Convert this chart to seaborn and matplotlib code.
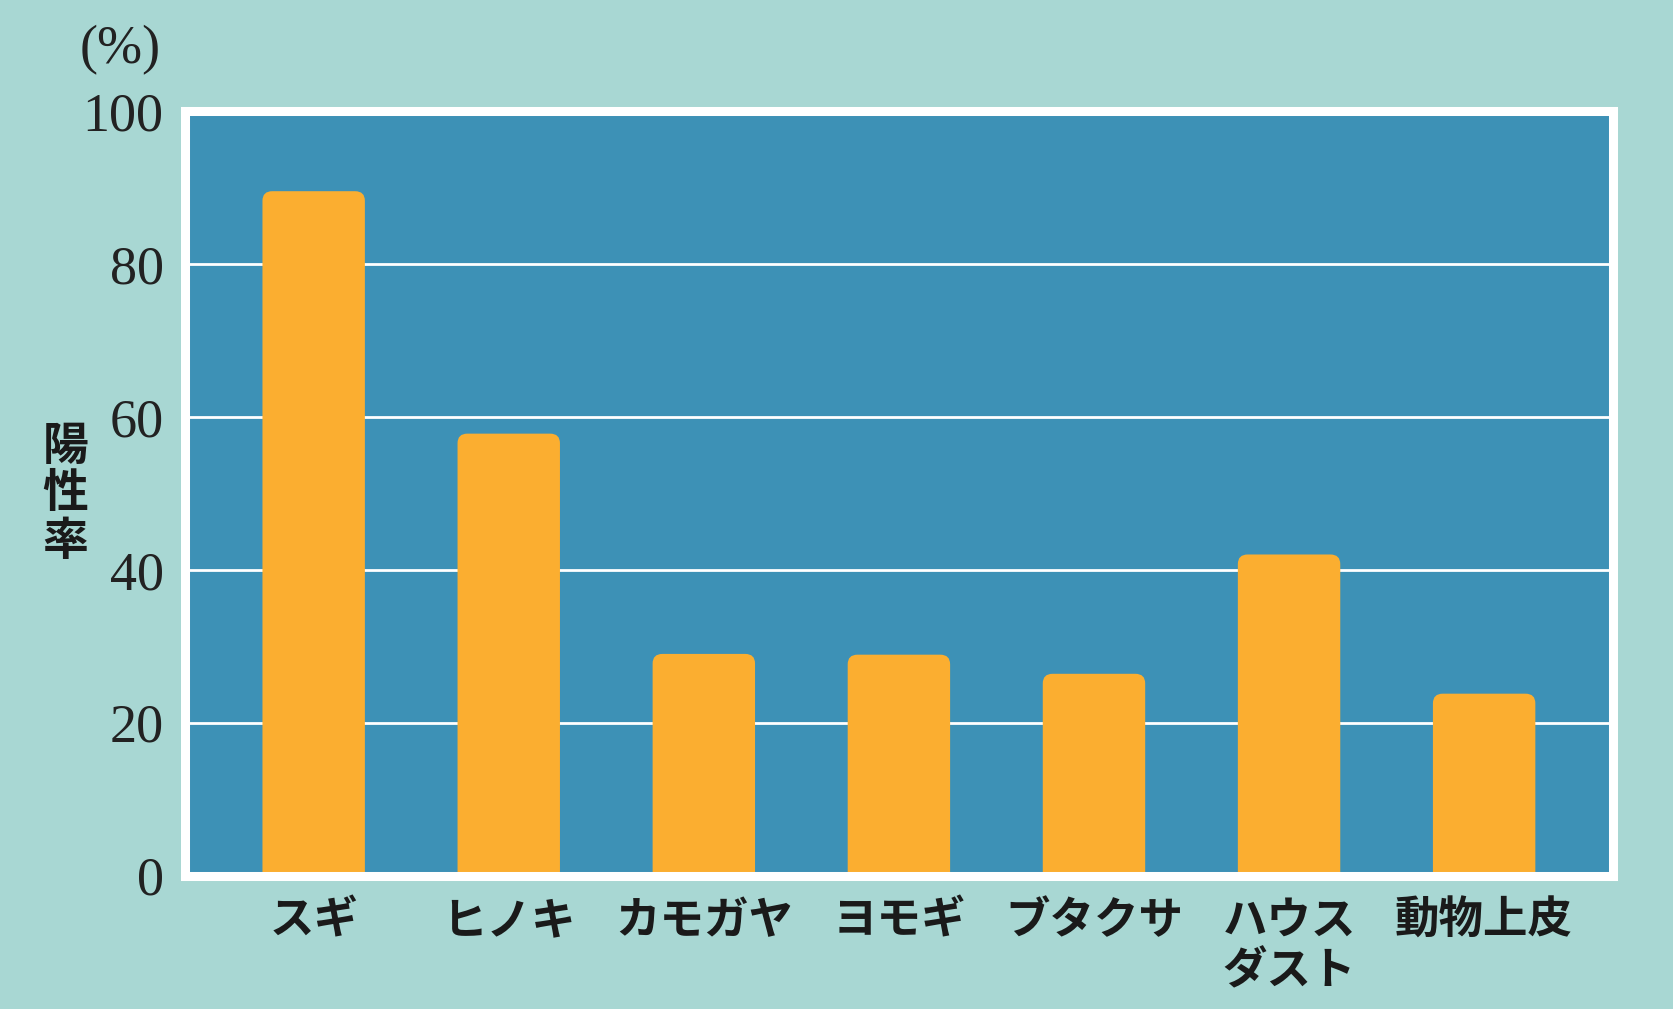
import matplotlib
matplotlib.use("Agg")
import matplotlib.pyplot as plt
from matplotlib.patches import FancyBboxPatch
import seaborn as sns
import pandas as pd

# data
allergens = ["スギ", "ヒノキ", "カモガヤ", "ヨモギ", "ブタクサ", "ハウス\nダスト", "動物上皮"]
positive_rate = [89.5, 57.8, 29.0, 28.9, 26.4, 42.0, 23.8]
y_ticks = [0, 20, 40, 60, 80, 100]

bg_color = "#a8d7d3"
panel_color = "#3d91b6"
bar_color = "#fbae30"

sns.set_theme(style="white")
plt.rcParams["font.family"] = ["Noto Sans CJK JP", "DejaVu Sans"]

df = pd.DataFrame({"allergen": allergens, "rate": positive_rate})

fig = plt.figure(figsize=(16.73, 10.09), dpi=100)
fig.patch.set_facecolor(bg_color)
ax = fig.add_axes([0.1103, 0.1321, 0.854, 0.758])
ax.set_facecolor(panel_color)

# white frame round the panel
for s in ax.spines.values():
    s.set_visible(True)
    s.set_color("white")
    s.set_linewidth(6.5)

sns.barplot(data=df, x="allergen", y="rate", color=bar_color, width=0.525,
            saturation=1, ax=ax, zorder=2)

# round the top corners of the bars
for p in list(ax.patches):
    x, y, w, h = p.get_x(), p.get_y(), p.get_width(), p.get_height()
    p.remove()
    ax.add_patch(FancyBboxPatch((x, y - 3), w, h + 3,
                                boxstyle="round,pad=0,rounding_size=0.05",
                                mutation_aspect=25, fc=bar_color, ec="none",
                                zorder=2))

ax.set_xlim(-0.662, 6.662)
ax.set_ylim(0, 100)
ax.set_yticks(y_ticks)
ax.set_yticklabels([str(v) for v in y_ticks], fontsize=39,
                   family="Liberation Serif", color="#222222")
ax.tick_params(axis="y", length=0, pad=15)
ax.tick_params(axis="x", length=0, pad=16)
for lab in ax.get_xticklabels():
    lab.set_fontsize(32)
    lab.set_fontweight("bold")
    lab.set_color("#1a1a1a")
    lab.set_linespacing(1.12)
    lab.set_verticalalignment("top")

ax.yaxis.grid(True, color="white", linewidth=2, zorder=1)
ax.set_axisbelow(True)
ax.set_xlabel("")
ax.set_ylabel("")

fig.text(0.096, 0.950, "(%)", ha="right", va="center", fontsize=39,
         family="Liberation Serif", color="#222222")
fig.text(0.039, 0.510, "陽\n性\n率", ha="center", va="center", fontsize=33,
         fontweight="bold", linespacing=1.05, color="#1a1a1a")

plt.savefig("out.png", dpi=100, facecolor=fig.get_facecolor())
